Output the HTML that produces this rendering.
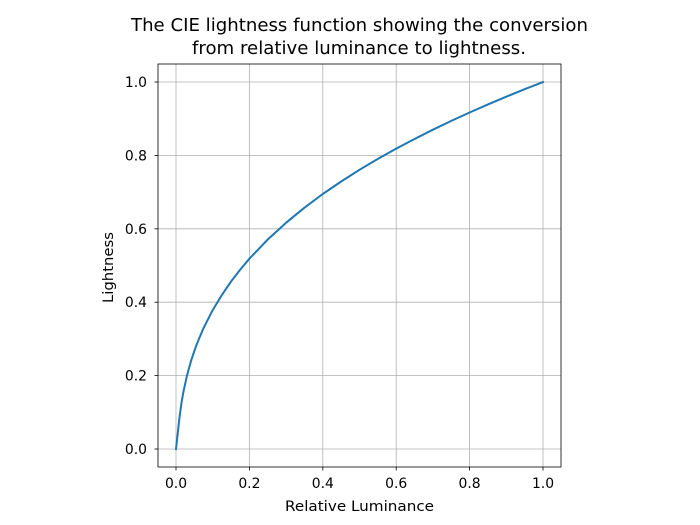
<!DOCTYPE html>
<html><head><meta charset="utf-8"><style>
html,body{margin:0;padding:0;background:#fff;}
svg{display:block;font-family:"DejaVu Sans","Liberation Sans",sans-serif;}
</style></head><body>
<svg width="700" height="525" viewBox="0 0 700 525" xmlns="http://www.w3.org/2000/svg">
<rect width="700" height="525" fill="#fff"/>
<g stroke="#b0b0b0" stroke-width="0.8">
<line x1="176" y1="64" x2="176" y2="467"/>
<line x1="249.4" y1="64" x2="249.4" y2="467"/>
<line x1="322.8" y1="64" x2="322.8" y2="467"/>
<line x1="396.2" y1="64" x2="396.2" y2="467"/>
<line x1="469.6" y1="64" x2="469.6" y2="467"/>
<line x1="543" y1="64" x2="543" y2="467"/>
<line x1="158" y1="449" x2="561" y2="449"/>
<line x1="158" y1="375.6" x2="561" y2="375.6"/>
<line x1="158" y1="302.2" x2="561" y2="302.2"/>
<line x1="158" y1="228.8" x2="561" y2="228.8"/>
<line x1="158" y1="155.4" x2="561" y2="155.4"/>
<line x1="158" y1="82" x2="561" y2="82"/>
</g>
<polyline fill="none" stroke="#1f77b4" stroke-width="2" stroke-linejoin="round" stroke-linecap="square" points="176,449 176.92,440.7 177.84,432.4 179.25,419.64 179.67,416 181.5,402.7 183.34,392.15 187.01,375.45 190.7,362.1 194.35,350.9 198,341.1 203.5,328.2 212.7,310.1 221.9,294.9 231.05,281.5 240.2,269.6 249.4,258.7 267.75,239.5 286.1,222.7 304.45,207.7 322.8,194 341.15,181.5 359.5,169.8 377.85,158.9 396.2,148.6 414.55,139 432.9,129.7 451.25,120.9 469.6,112.5 487.95,104.4 506.3,96.7 524.65,89.2 543,82"/>
<rect x="158" y="64" width="403" height="403" fill="none" stroke="#000" stroke-width="0.8"/>
<g stroke="#000" stroke-width="0.8">
<line x1="176" y1="467" x2="176" y2="470.5"/>
<line x1="249.4" y1="467" x2="249.4" y2="470.5"/>
<line x1="322.8" y1="467" x2="322.8" y2="470.5"/>
<line x1="396.2" y1="467" x2="396.2" y2="470.5"/>
<line x1="469.6" y1="467" x2="469.6" y2="470.5"/>
<line x1="543" y1="467" x2="543" y2="470.5"/>
<line x1="154.5" y1="449" x2="158" y2="449"/>
<line x1="154.5" y1="375.6" x2="158" y2="375.6"/>
<line x1="154.5" y1="302.2" x2="158" y2="302.2"/>
<line x1="154.5" y1="228.8" x2="158" y2="228.8"/>
<line x1="154.5" y1="155.4" x2="158" y2="155.4"/>
<line x1="154.5" y1="82" x2="158" y2="82"/>
</g>
<g font-size="13.9" fill="#000" text-anchor="middle">
<text x="176" y="488">0.0</text>
<text x="249.4" y="488">0.2</text>
<text x="322.8" y="488">0.4</text>
<text x="396.2" y="488">0.6</text>
<text x="469.6" y="488">0.8</text>
<text x="543" y="488">1.0</text>
</g>
<g font-size="13.9" fill="#000" text-anchor="end">
<text x="147" y="454">0.0</text>
<text x="147" y="380.6">0.2</text>
<text x="147" y="307.2">0.4</text>
<text x="147" y="233.8">0.6</text>
<text x="147" y="160.4">0.8</text>
<text x="147" y="87">1.0</text>
</g>
<text x="285" y="511" font-size="14.5" textLength="149" lengthAdjust="spacingAndGlyphs">Relative Luminance</text>
<text transform="translate(113,303) rotate(-90)" font-size="14.5" textLength="71" lengthAdjust="spacingAndGlyphs">Lightness</text>
<text x="131" y="31" font-size="17.5" textLength="457" lengthAdjust="spacingAndGlyphs">The CIE lightness function showing the conversion</text>
<text x="192" y="54" font-size="17.5" textLength="334" lengthAdjust="spacingAndGlyphs">from relative luminance to lightness.</text>
</svg>
</body></html>
